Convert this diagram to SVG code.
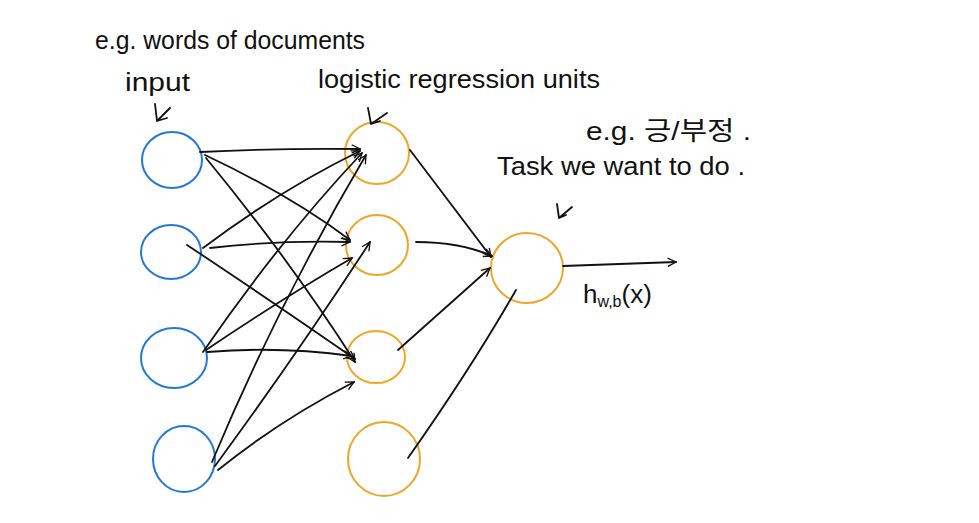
<svg xmlns="http://www.w3.org/2000/svg" width="979" height="523" viewBox="0 0 979 523">
<style>
.in{fill:none;stroke:#2478d4;stroke-width:2}
.hid{fill:none;stroke:#eda62a;stroke-width:2}
.c{fill:none;stroke:#111;stroke-width:1.8;stroke-linecap:round;stroke-linejoin:round}
.t{font-family:"Liberation Sans","Noto Sans CJK KR",sans-serif;font-size:26px;fill:#111}
</style>
<defs>
<marker id="ah" viewBox="0 0 12 12" refX="11" refY="6" markerWidth="10" markerHeight="10" markerUnits="userSpaceOnUse" orient="auto">
<path d="M1,1 L11,6 L1,11" fill="none" stroke="#111" stroke-width="1.6"/>
</marker>
</defs>
<rect width="979" height="523" fill="#fff"/>
<g id="input1"><ellipse class="in" cx="172" cy="160" rx="30" ry="28"/></g>
<g id="input2"><ellipse class="in" cx="171" cy="252" rx="30" ry="27"/></g>
<g id="input3"><ellipse class="in" cx="174" cy="358" rx="33" ry="30"/></g>
<g id="input4"><ellipse class="in" cx="184" cy="459" rx="31" ry="33"/></g>
<g id="hidden1"><ellipse class="hid" cx="377" cy="153" rx="32" ry="31"/></g>
<g id="hidden2"><ellipse class="hid" cx="377" cy="245" rx="31" ry="30"/></g>
<g id="hidden3"><ellipse class="hid" cx="376" cy="357" rx="29" ry="26"/></g>
<g id="hidden4"><ellipse class="hid" cx="384" cy="459" rx="36" ry="37"/></g>
<g id="output"><ellipse class="hid" cx="527" cy="268" rx="36" ry="35"/></g>
<g id="connectors">
<path class="c" marker-end="url(#ah)" d="M200,152 Q280,148 360,149"/>
<path class="c" marker-end="url(#ah)" d="M205,155 Q290,195 350,240"/>
<path class="c" marker-end="url(#ah)" d="M206,158 Q290,260 355,362"/>
<path class="c" marker-end="url(#ah)" d="M203,248 Q280,190 360,151"/>
<path class="c" marker-end="url(#ah)" d="M210,248 Q280,240 350,242"/>
<path class="c" marker-end="url(#ah)" d="M187,245 Q270,300 355,359"/>
<path class="c" marker-end="url(#ah)" d="M203,352 Q280,240 362,153"/>
<path class="c" marker-end="url(#ah)" d="M206,350 Q280,300 352,258"/>
<path class="c" marker-end="url(#ah)" d="M207,352 Q280,346 352,356"/>
<path class="c" marker-end="url(#ah)" d="M212,462 Q280,300 366,155"/>
<path class="c" marker-end="url(#ah)" d="M215,466 Q300,350 370,242"/>
<path class="c" marker-end="url(#ah)" d="M218,470 Q280,420 354,382"/>
<path class="c" marker-end="url(#ah)" d="M410,150 L491,257"/>
<path class="c" marker-end="url(#ah)" d="M416,242 Q460,242 492,256"/>
<path class="c" marker-end="url(#ah)" d="M398,350 L490,268"/>
<path class="c" d="M408,458 Q470,370 516,290"/>
<path class="c" marker-end="url(#ah)" d="M563,266 L676,262"/>
<path class="c" d="M155,104 L157,121 L167,118 M157,121 L170,108"/>
<path class="c" d="M368,108 L371,124 L380,121 M371,124 L387,113"/>
<path class="c" d="M557,204 L559,218 L566,215 M559,218 L572,207"/>
</g>
<g id="labels">
<text class="t" x="95" y="49" textLength="270" lengthAdjust="spacingAndGlyphs">e.g. words of documents</text>
<text class="t" x="125" y="91" textLength="65" lengthAdjust="spacingAndGlyphs">input</text>
<text class="t" x="318" y="88" textLength="282" lengthAdjust="spacingAndGlyphs">logistic regression units</text>
<text class="t" x="586" y="140" textLength="165" lengthAdjust="spacingAndGlyphs">e.g. 긍/부정 .</text>
<text class="t" x="497" y="175" textLength="248" lengthAdjust="spacingAndGlyphs">Task we want to do .</text>
<text class="t" x="583" y="303">h<tspan font-size="16" dy="4">w,b</tspan><tspan dy="-4">(x)</tspan></text>
</g>
</svg>
